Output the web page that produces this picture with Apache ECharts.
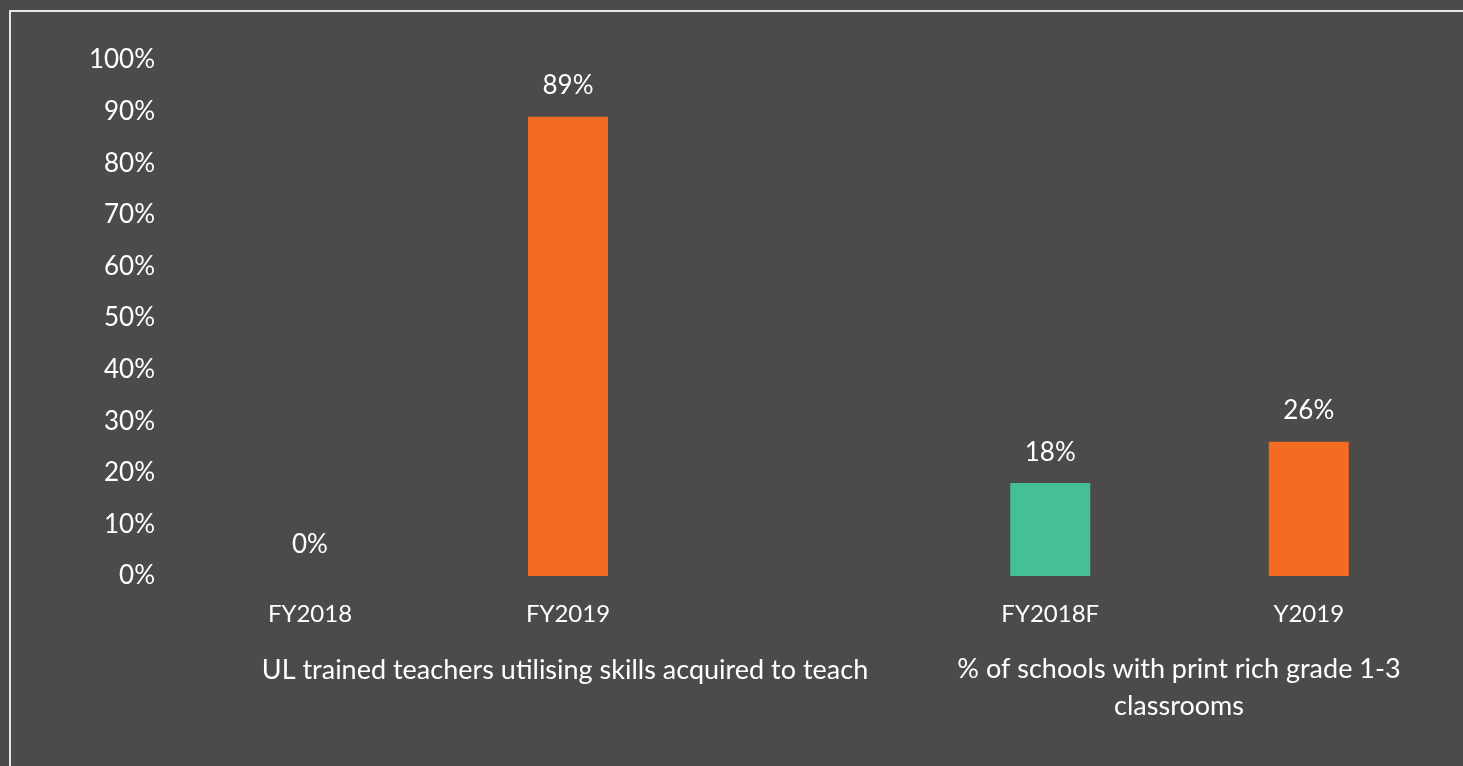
<!DOCTYPE html>
<html>
<head>
<meta charset="utf-8">
<script src="https://cdn.jsdelivr.net/npm/echarts@6/dist/echarts.min.js"></script>
<style>
  html, body { margin: 0; padding: 0; background: #4d4a4b; }
  #chart { width: 1463px; height: 766px; }
</style>
</head>
<body>
<div id="chart"></div>
<script>
var groupNames = ['UL trained teachers utilising skills acquired to teach', '% of schools with print rich grade 1-3\nclassrooms'];
var cats1 = ['FY2018', 'FY2019'];
var vals1 = [0, 89];
var cats2 = ['FY2018F', 'Y2019'];
var vals2 = [18, 26];
var barColors = ['#45bf94', '#f36c21'];

var font = 'Lato';
var dom = document.getElementById('chart');
var myChart = echarts.init(dom);

function toData(vals) {
    return vals.map(function (v, i) {
        return { value: v, itemStyle: { color: barColors[i] } };
    });
}

var xCommon = {
    type: 'category',
    axisTick: { show: false },
    axisLine: { show: false },
    axisLabel: { color: '#ffffff', fontFamily: font, fontSize: 24, margin: 26 }
};
var yCommon = {
    type: 'value',
    min: 0,
    max: 100,
    interval: 10,
    splitLine: { show: false },
    axisLine: { show: false },
    axisTick: { show: false }
};
var labelCommon = {
    show: true,
    position: 'top',
    distance: 18,
    color: '#ffffff',
    fontFamily: font,
    fontSize: 26,
    formatter: '{c}%'
};

var option = {
    backgroundColor: '#4d4a4b',
    animation: false,
    grid: [
        { left: 181, width: 516, top: 60, bottom: 190 },
        { left: 921, width: 517, top: 60, bottom: 190 }
    ],
    xAxis: [
        Object.assign({ gridIndex: 0, data: cats1 }, xCommon),
        Object.assign({ gridIndex: 1, data: cats2 }, xCommon)
    ],
    yAxis: [
        Object.assign({ gridIndex: 0, axisLabel: { color: '#ffffff', fontFamily: font, fontSize: 26, margin: 26, formatter: '{value}%' } }, yCommon),
        Object.assign({ gridIndex: 1, axisLabel: { show: false } }, yCommon)
    ],
    series: [
        { type: 'bar', xAxisIndex: 0, yAxisIndex: 0, barWidth: 80, data: toData(vals1), label: labelCommon },
        { type: 'bar', xAxisIndex: 1, yAxisIndex: 1, barWidth: 80, data: toData(vals2), label: labelCommon }
    ],
    graphic: [
        {
            type: 'rect',
            shape: { x: 10, y: 11, width: 1500, height: 800 },
            style: { fill: 'none', stroke: '#e6e6e6', lineWidth: 2 },
            silent: true
        },
        {
            type: 'text',
            x: 565, y: 670,
            style: { text: groupNames[0], fill: '#ffffff', font: '27px Lato', align: 'center', verticalAlign: 'middle' }
        },
        {
            type: 'text',
            x: 1179, y: 688,
            style: { text: groupNames[1], fill: '#ffffff', font: '27px Lato', align: 'center', verticalAlign: 'middle', lineHeight: 37 }
        }
    ]
};

myChart.setOption(option, true);
</script>
</body>
</html>
